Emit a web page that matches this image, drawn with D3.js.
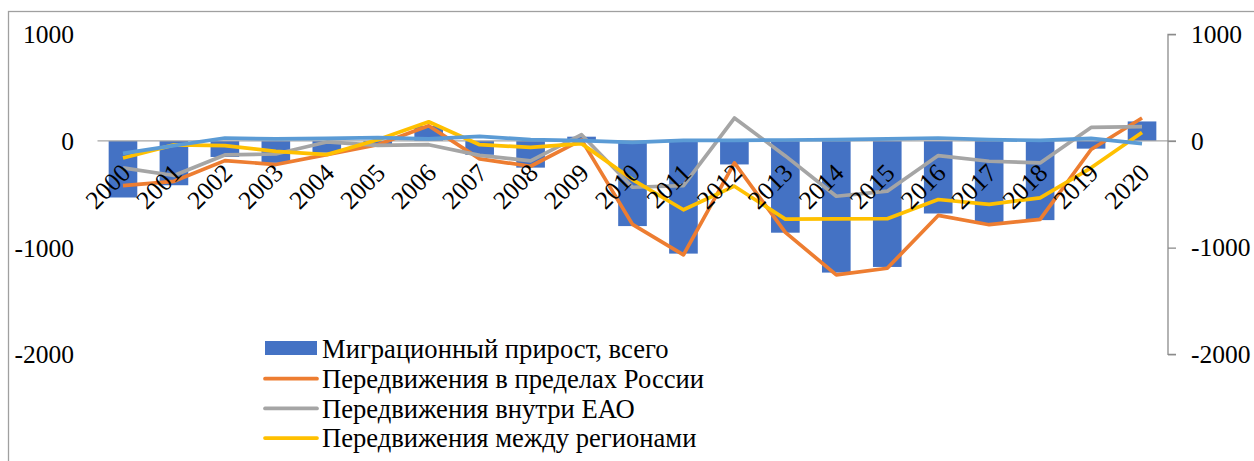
<!DOCTYPE html>
<html>
<head>
<meta charset="utf-8">
<script src="https://cdn.jsdelivr.net/npm/d3@7"></script>
</head>
<body style="margin:0;background:#fff">
<svg id="chart" width="1254" height="461" style="display:block"></svg>
<script>
// Data
const years = ['2000','2001','2002','2003','2004','2005','2006','2007','2008','2009','2010',
               '2011','2012','2013','2014','2015','2016','2017','2018','2019','2020'];

const totalGrowth = [-530, -415, -150, -205, -110, -30, 140, -130, -250, 40, -798,
                     -1056, -220, -860, -1234, -1181, -680, -775, -742, -72, 183];
const withinRussia = [-418, -378, -184, -221, -128, -35, 143, -168, -237, 10, -782,
                      -1068, -206, -857, -1255, -1193, -698, -785, -735, -80, 215];
const withinEAO = [-252, -324, -131, -122, -9, -41, -35, -135, -187, 59, -434,
                   -418, 215, -140, -518, -471, -137, -190, -206, 127, 134];
const betweenRegions = [-159, -37, -44, -97, -128, 12, 180, -35, -60, -25, -362,
                        -645, -424, -733, -731, -729, -549, -595, -533, -252, 80];
const international = [-116, -44, 28, 19, 25, 31, 19, 43, 12, 3, -13,
                       6, 6, 9, 12, 19, 28, 12, 6, 25, -25];

const yTicks = [1000, 0, -1000, -2000];

const barName = 'Миграционный прирост, всего';
const lineSeries = [
  { name: 'Передвижения в пределах России', values: withinRussia, color: '#ED7D31', legend: true },
  { name: 'Передвижения внутри ЕАО', values: withinEAO, color: '#A5A5A5', legend: true },
  { name: 'Передвижения между регионами', values: betweenRegions, color: '#FFC000', legend: true },
  { name: 'Международная миграция', values: international, color: '#5B9BD5', legend: false }
];

const svg = d3.select('#chart');
const font = '"Liberation Serif", "Times New Roman", serif';
const axisFontSize = '25.5px';
const legendFontSize = '26.6px';

// Outer chart frame (cut by the picture edge on the right and bottom)
svg.append('rect')
  .attr('x', 8.5).attr('y', 11.5)
  .attr('width', 1300).attr('height', 500)
  .attr('fill', 'none')
  .attr('stroke', '#a0a0a0')
  .attr('stroke-width', 1.3);

// Scales
const x = d3.scaleBand()
  .domain(years)
  .range([97.5, 1167.5])
  .padding(0);

const y = d3.scaleLinear()
  .domain([-2000, 1000])
  .range([354.3, 34.3]);

const barWidth = x.bandwidth() * 0.562;

// Bars
svg.append('g')
  .selectAll('rect')
  .data(years)
  .join('rect')
  .attr('x', d => x(d) + (x.bandwidth() - barWidth) / 2)
  .attr('width', barWidth)
  .attr('y', (d, i) => y(Math.max(0, totalGrowth[i])))
  .attr('height', (d, i) => Math.abs(y(totalGrowth[i]) - y(0)))
  .attr('fill', '#4472C4');

// Zero line
svg.append('line')
  .attr('x1', 97.5).attr('x2', 1176)
  .attr('y1', y(0)).attr('y2', y(0))
  .attr('stroke', '#a6a6a6')
  .attr('stroke-width', 1.3);

// Lines
const line = d3.line()
  .x((d, i) => x(years[i]) + x.bandwidth() / 2)
  .y(d => y(d));

svg.append('g')
  .selectAll('path')
  .data(lineSeries)
  .join('path')
  .attr('d', d => line(d.values))
  .attr('fill', 'none')
  .attr('stroke', d => d.color)
  .attr('stroke-width', 3.7)
  .attr('stroke-linejoin', 'round');

// Left axis labels (no axis line)
svg.append('g')
  .selectAll('text')
  .data(yTicks)
  .join('text')
  .attr('x', 74)
  .attr('y', d => y(d))
  .attr('dy', '0.35em')
  .attr('text-anchor', 'end')
  .style('font-family', font)
  .style('font-size', axisFontSize)
  .text(d => d);

// Right axis
const rightAxis = d3.axisRight(y)
  .tickValues(yTicks)
  .tickSize(8)
  .tickPadding(15)
  .tickFormat(d => d);

const rg = svg.append('g')
  .attr('transform', 'translate(1168,0)')
  .call(rightAxis);
rg.select('.domain').attr('stroke', '#8c8c8c').attr('stroke-width', 1.3)
  .attr('d', `M8,${y(1000)}H0V${y(-2000)}H8`);
rg.selectAll('.tick line').attr('stroke', '#8c8c8c').attr('stroke-width', 1.3);
rg.selectAll('.tick text')
  .style('font-family', font)
  .style('font-size', axisFontSize)
  .attr('fill', '#000');

// Category labels, rotated
svg.append('g')
  .selectAll('text')
  .data(years)
  .join('text')
  .attr('transform', d => `translate(${x(d) + x.bandwidth() / 2 + 9},${y(0) + 33.5}) rotate(-45)`)
  .attr('text-anchor', 'end')
  .style('font-family', font)
  .style('font-size', axisFontSize)
  .text(d => d);

// Legend
const legendItems = [{ name: barName, type: 'bar', color: '#4472C4' }]
  .concat(lineSeries.filter(s => s.legend).map(s => ({ name: s.name, type: 'line', color: s.color })));

const legend = svg.append('g')
  .selectAll('g')
  .data(legendItems)
  .join('g')
  .attr('transform', (d, i) => `translate(265,${349 + i * 29.7})`);

legend.filter(d => d.type === 'bar')
  .append('rect')
  .attr('x', 0).attr('y', -8)
  .attr('width', 52).attr('height', 14)
  .attr('fill', d => d.color);

legend.filter(d => d.type === 'line')
  .append('line')
  .attr('x1', 0).attr('x2', 52)
  .attr('y1', 0).attr('y2', 0)
  .attr('stroke', d => d.color)
  .attr('stroke-width', 3.7)
  .attr('stroke-linecap', 'round');

legend.append('text')
  .attr('x', 57)
  .attr('y', 0)
  .attr('dy', '0.35em')
  .style('font-family', font)
  .style('font-size', legendFontSize)
  .text(d => d.name);
</script>
</body>
</html>
